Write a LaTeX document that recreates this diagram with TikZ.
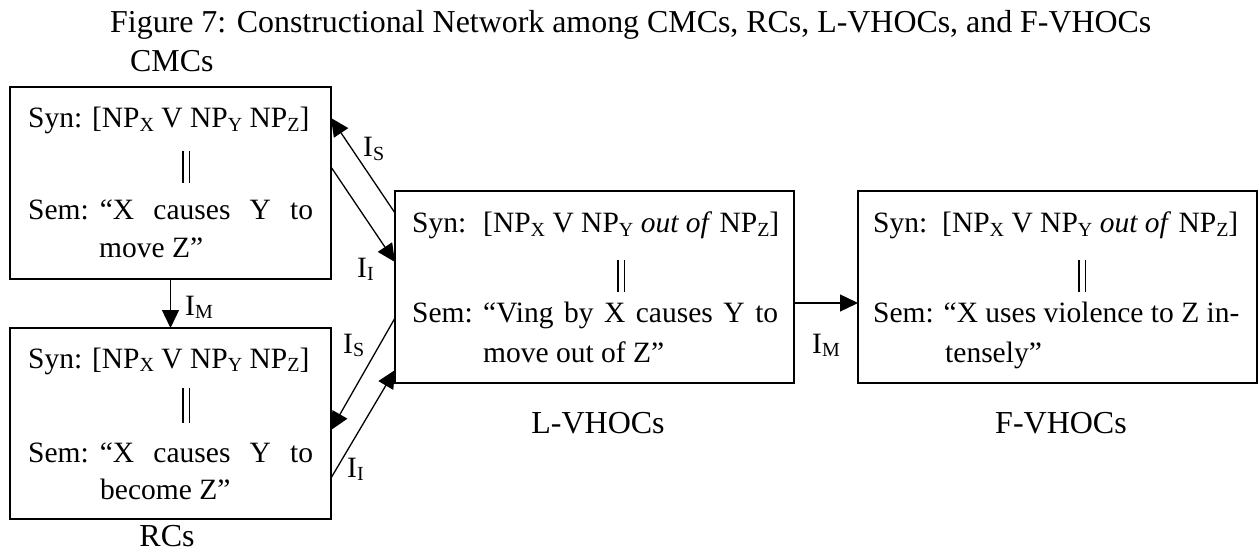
\documentclass[tikz,border=0pt]{standalone}
\usepackage{fontspec}
\setmainfont{Liberation Serif}
\usetikzlibrary{arrows.meta}
\newcommand\sbs[1]{\raisebox{-3.5pt}{\fontsize{20}{20}\selectfont #1}}
\newcommand\bfnt{\fontsize{29.5}{35}\selectfont}
\newcommand\lfnt{\fontsize{32}{38}\selectfont}
\newcommand\tfnt{\fontsize{31.9}{38}\selectfont}
\begin{document}
\begin{tikzpicture}[x=1pt,y=-1pt,
  box/.style={draw,line width=1.4pt,inner sep=0pt,outer sep=0pt},
  txt/.style={inner sep=0pt,anchor=base west,font=\bfnt},
  lab/.style={inner sep=0pt,anchor=base,font=\lfnt},
  dbar/.style={line width=1.5pt},
  conn/.style={line width=1.3pt,-{Triangle[length=18pt,width=17pt]}}]
\useasboundingbox (0,0) rectangle (1258,556);
% title
\node[inner sep=0pt,anchor=base west,font=\tfnt] (title) at (110,33) {Figure 7: Constructional Network among CMCs, RCs, L-VHOCs, and F-VHOCs};
\node[inner sep=0pt,anchor=base west,font=\tfnt] (cmclab) at (130,72) {CMCs};
% boxes
\node[box,minimum width=321pt,minimum height=192pt] (cmc) at (170.5,183) {};
\node[box,minimum width=321pt,minimum height=191pt] (rc) at (170.5,423.5) {};
\node[box,minimum width=399pt,minimum height=192pt] (lv) at (594.5,287) {};
\node[box,minimum width=399pt,minimum height=192pt] (fv) at (1057.5,287) {};
% CMC text
\node[txt] (cmcsyn) at (28,128) {Syn: [NP\sbs{X} V NP\sbs{Y} NP\sbs{Z}]};
\draw[dbar] (183,151) -- (183,183);
\draw[dbar] (189.5,151) -- (189.5,183);
\node[txt] (cmcsem) at (28,219) {\makebox[285pt][l]{Sem:\hspace{11pt}“X\hfill causes\hfill Y\hfill to}};
\node[txt] (cmcsemb) at (99,257) {move Z”};
% RC text
\node[txt] (rcsyn) at (28,368) {Syn: [NP\sbs{X} V NP\sbs{Y} NP\sbs{Z}]};
\draw[dbar] (183,388) -- (183,423);
\draw[dbar] (189.5,388) -- (189.5,423);
\node[txt] (rcsem) at (28,462) {\makebox[285pt][l]{Sem:\hspace{11pt}“X\hfill causes\hfill Y\hfill to}};
\node[txt] (rcsemb) at (100,499) {become Z”};
\node[lab] (rclab) at (167,546) {RCs};
% L-VHOC text
\node[txt] (lvsyn) at (412,233) {Syn:};
\node[txt] (lvsynb) at (483,233) {[NP\sbs{X} V NP\sbs{Y} \textit{out of} NP\sbs{Z}]};
\draw[dbar] (618,260) -- (618,292);
\draw[dbar] (624.5,260) -- (624.5,292);
\node[txt] (lvsem) at (412,322) {Sem:};
\node[txt] (lvsemb) at (483,322) {\makebox[295pt][s]{“Ving by X causes Y to}};
\node[txt] (lvsemc) at (483,362) {move out of Z”};
\node[lab] (lvlab) at (598,433) {L-VHOCs};
% F-VHOC text
\node[txt] (fvsyn) at (873,233) {Syn:};
\node[txt] (fvsynb) at (942,233) {[NP\sbs{X} V NP\sbs{Y} \textit{out of} NP\sbs{Z}]};
\draw[dbar] (1079,260) -- (1079,292);
\draw[dbar] (1085.5,260) -- (1085.5,292);
\node[txt] (fvsem) at (873,322) {Sem: “X uses violence to Z in-};
\node[txt] (fvsemc) at (945,362) {tensely”};
\node[lab] (fvlab) at (1061,433) {F-VHOCs};
% connectors
\draw[conn] ([yshift=-22pt]lv.north west) -- ([yshift=-31pt]cmc.north east);
\draw[conn] ([yshift=-80pt]cmc.north east) -- ([yshift=-71pt]lv.north west);
\draw[conn] ([yshift=-127pt]lv.north west) -- ([yshift=-102pt]rc.north east);
\draw[conn] ([yshift=-150pt]rc.north east) -- ([yshift=-179pt]lv.north west);
\draw[conn] (cmc.south) -- (rc.north);
\draw[conn] ([yshift=-16pt]lv.east) -- ([yshift=-16pt]fv.west);
% connector labels
\node[txt] (is1) at (363,157) {I\sbs{S}};
\node[txt] (ii1) at (357,277) {I\sbs{I}};
\node[txt] (im1) at (185,315) {I\sbs{M}};
\node[txt] (is2) at (343,353) {I\sbs{S}};
\node[txt] (ii2) at (347,477) {I\sbs{I}};
\node[txt] (im2) at (812,353) {I\sbs{M}};
\end{tikzpicture}
\end{document}
